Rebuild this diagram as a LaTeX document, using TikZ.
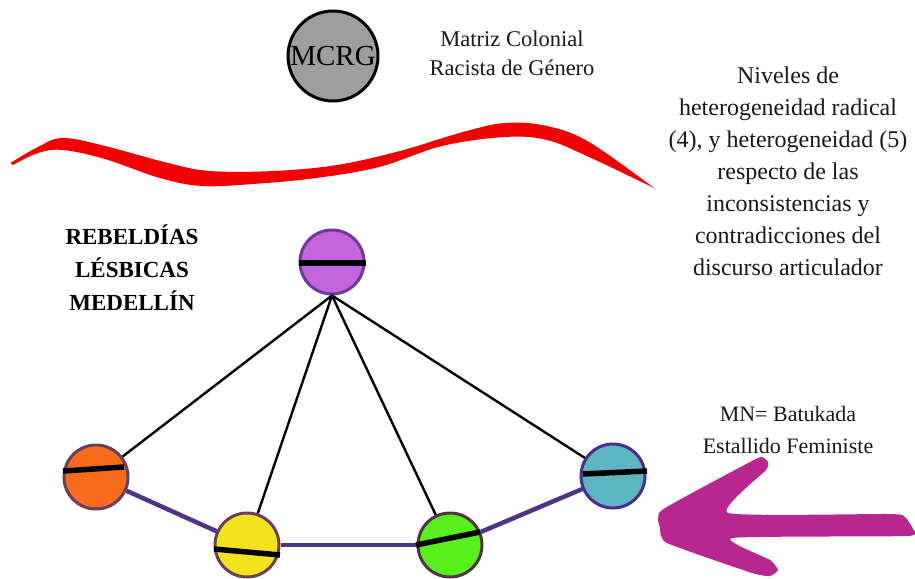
\documentclass[tikz,border=0pt]{standalone}
\usepackage{fontspec}
\setmainfont{Liberation Serif}
\usetikzlibrary{calc}
\definecolor{redbrush}{HTML}{F20000}
\definecolor{magbrush}{HTML}{B8278F}
\definecolor{conn}{HTML}{4E3485}
\definecolor{cpurple}{HTML}{C565DD}
\definecolor{corange}{HTML}{F96B1C}
\definecolor{cyellow}{HTML}{F2E31A}
\definecolor{cgreen}{HTML}{58F01C}
\definecolor{cteal}{HTML}{5BB6C0}
\definecolor{bpurple}{HTML}{6A3A9A}
\definecolor{bbrown}{HTML}{6A3F5A}
\tikzset{
  ball/.style={circle, inner sep=0pt, minimum size=64pt, line width=3pt},
  bar/.style={line width=5.5pt, black},
  blk/.style={line width=2.4pt, black},
  pc/.style={line width=4.5pt, conn},
  txt/.style={align=center, font={\fontsize{24}{32}\selectfont}, text=black!90},
}
\begin{document}
\begin{tikzpicture}[x=1pt,y=-1pt]
\useasboundingbox[fill=white] (0,0) rectangle (915,578);

% red brush stroke
\fill[redbrush] plot[smooth, tension=0.6] coordinates {(10.5,163) (38,147) (63,138) (105,146) (168,163) (210,171) (274,171) (337,165) (400,151) (463,132) (505,123) (547,126) (589,142) (654,188)}
  -- plot[smooth, tension=0.6] coordinates {(654,188) (589,157) (547,140) (505,137) (442,146) (379,167) (316,178) (253,184) (202,186) (160,178) (105,159) (63,150) (38,153) (13,165)} -- cycle;

% magenta arrow
\fill[magbrush] plot[smooth cycle, tension=0.3] coordinates {(662,510) (750,462) (762,457) (768,462) (766,470) (728,513) (890,514) (905,517) (913,529) (907,536) (732,538) (770,560) (778,570) (770,576) (752,573) (667,543) (660,528)};

% MCRG
\node[circle, inner sep=0pt, minimum size=90pt, line width=3pt, draw=black, fill=black!38] (mcrg) at (333,56) {\fontsize{29}{30}\selectfont MCRG};
\node[txt, font={\fontsize{22.5}{29}\selectfont}] (mcrgt) at (512,53) {Matriz Colonial\\Racista de Género};

% right text
\node[txt] (niv) at (788,171) {Niveles de\\heterogeneidad radical\\(4), y heterogeneidad (5)\\respecto de las\\inconsistencias y\\contradicciones del\\discurso articulador};

\node[align=center, font={\fontsize{23}{33}\selectfont\bfseries}] (reb) at (132,268) {REBELDÍAS\\LÉSBICAS\\MEDELLÍN};

\node[txt, font={\fontsize{22}{32}\selectfont}] (mn) at (788,430) {MN= Batukada\\Estallido Feministe};

% nodes
\node[ball, draw=bpurple, fill=cpurple] (p) at (332,262) {};
\node[ball, draw=bbrown, fill=corange] (o) at (96,477) {};
\node[ball, draw=bbrown, fill=cyellow] (y) at (247,545) {};
\node[ball, draw=bbrown!80!black, fill=cgreen] (g) at (450,545) {};
\node[ball, draw=bbrown!70!blue, fill=cteal] (t) at (613,476) {};

% connectors
\draw[blk] (p.south) -- (o);
\draw[blk] (p.south) -- (y);
\draw[blk] (p.south) -- (g);
\draw[blk] (p.south) -- (t);
\draw[pc] (o) -- (y);
\draw[pc] (y) -- (g);
\draw[pc] (g) -- (t);

% bars
\draw[bar] (299,263) -- (366,263);
\draw[bar] (63,471) -- (124,467);
\draw[bar] (214,549) -- (280,555);
\draw[bar] (416,545) -- (480,532);
\draw[bar] (583,474) -- (647,471);
\end{tikzpicture}
\end{document}
